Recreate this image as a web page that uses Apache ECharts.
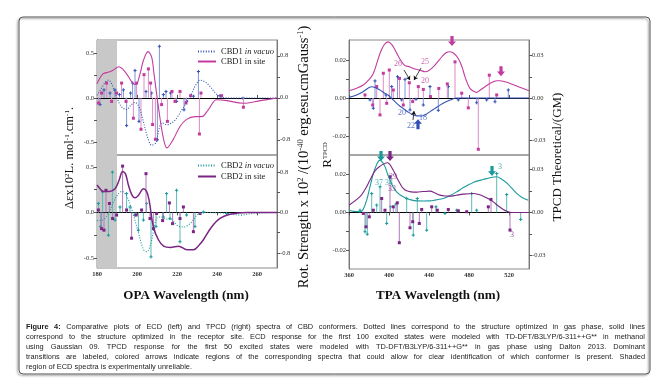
<!DOCTYPE html>
<html><head><meta charset="utf-8">
<script src="https://cdn.jsdelivr.net/npm/echarts@6/dist/echarts.min.js"></script>
<style>html,body{margin:0;padding:0;background:#fff}#c{width:664px;height:382px}</style>
</head><body><div id="c"></div>
<script>
// ---------------- DATA ----------------
const opaTicks = [180, 200, 220, 240, 260];
const tpaTicks = [360, 400, 440, 480, 520];
const ecdLeftTicks = [-0.5, 0, 0.5];
const ecdRightTicks = [-0.8, 0, 0.8];
const tpcdLeftTicks = [-0.02, 0, 0.02];
const tpcdRightTicks = [-0.03, 0, 0.03];
const shadedRegion = [180, 190];

// ECD curves (Δε, left axis)
const ecd1VacuoCurve = [[180,0.03],[182,0.1],[184,0.17],[185.7,0.2],[187.5,0.15],[189.8,0.01],[192.3,-0.1],[194.8,-0.13],[197,-0.08],[199,-0.05],[201,-0.1],[203,-0.25],[205,-0.42],[207.3,-0.53],[209.5,-0.5],[211,-0.35],[212.5,-0.28],[215,-0.3],[218,-0.27],[220,-0.22],[222.5,-0.13],[224.8,-0.05],[227.3,0.05],[229.5,0.15],[231.5,0.2],[234,0.18],[236.5,0.13],[239,0.06],[241.5,0.015],[245,0],[270,0]];
const ecd1SiteCurve = [[180,0.16],[183,0.27],[186,0.29],[188,0.31],[191,0.35],[193,0.32],[195.7,0.24],[198,0.16],[199.5,0.15],[201.5,0.27],[203.2,0.42],[205.5,0.52],[207.3,0.46],[208.5,0.27],[210.7,-0.1],[213,-0.43],[215,-0.56],[218,-0.47],[221.5,-0.32],[224.8,-0.24],[229,-0.21],[232.3,-0.21],[235.7,-0.13],[239.8,-0.02],[245,-0.03],[253,-0.06],[261.7,-0.03],[270,0]];
const ecd2VacuoCurve = [[180,-0.09],[183,-0.08],[185.7,-0.01],[188,0.1],[190.5,0.2],[192.5,0.23],[195,0.17],[197,0.06],[198.5,-0.05],[200.8,-0.23],[203.3,-0.41],[205,-0.43],[206.7,-0.36],[208.3,-0.2],[210,-0.06],[212,-0.05],[214,-0.07],[217.5,-0.08],[220,-0.14],[223.3,-0.16],[226.7,-0.12],[230,-0.03],[233.3,0],[245,-0.01],[252,-0.03],[258,-0.01],[270,0]];
const ecd2SiteCurve = [[180,0.30],[181.5,0.26],[183,0.23],[186.3,0.23],[189,0.26],[191,0.35],[192.8,0.45],[194.3,0.42],[195.7,0.3],[197.5,0.19],[199,0.16],[200.8,0.19],[203.2,0.26],[204.8,0.23],[206,0.14],[208.2,-0.16],[210.7,-0.30],[213.3,-0.37],[216.7,-0.385],[220.8,-0.37],[225,-0.41],[228.3,-0.41],[231,-0.36],[233.2,-0.30],[237.3,-0.16],[241.5,-0.066],[246.5,-0.02],[255,0],[270,0]];

// ECD sticks (rotational strength, right axis)
const ecd1VacuoSticks = [[181.5,-0.13],[183.5,0.15],[186.5,0.09],[189,0.15],[191.2,0.06],[193.2,0.15],[194.8,-0.53],[196.8,0.09],[197.8,0.28],[199,0.52],[201,-0.45],[204.5,0.12],[207.3,0.09],[210.2,-0.8],[211.2,0.98],[213.2,0.06],[214.5,0.12],[216.8,0.09],[219.8,-0.07],[223.5,-0.23],[224.8,-0.07],[228.2,0.03],[230.7,0.5],[241.5,0.04],[253,-0.01]];
const ecd1SiteSticks = [[180.7,-0.1],[182.3,0.09],[184.8,0.28],[187.3,-0.07],[189.8,0.09],[192.3,0.28],[194.5,-0.07],[198.2,-0.39],[199.8,0.28],[202,-0.6],[203.5,0.44],[205.7,0.55],[206.8,0.28],[207.8,-0.51],[209.2,-0.79],[212.3,-0.13],[215.2,-0.45],[217.5,0.12],[219,-0.07],[221.5,0.12],[224.5,-0.1],[226.8,0.04],[231.2,-0.69],[232,0.09],[242.3,0.04],[253.2,-0.18]];
const ecd2VacuoSticks = [[180.7,0.18],[181.8,-0.28],[182.8,0.41],[185.7,-0.45],[187.7,0.8],[189,-0.15],[191.5,0.11],[194.8,0.375],[196.5,0.11],[199,-0.05],[200.7,-0.35],[203.2,-0.15],[204.8,0.18],[207,-0.88],[209.5,-0.28],[213.2,-0.09],[214.8,0.375],[216.5,-0.12],[219.8,0.44],[221.5,-0.58],[224.8,-0.05],[229,-0.28],[233.2,0.01],[244.8,-0.02]];
const ecd2SiteSticks = [[180.7,0.05],[182.3,-0.32],[183.5,-0.35],[184.5,0.44],[186.2,0.18],[187.8,-0.12],[189.8,-0.05],[192.8,0.92],[194.8,0.05],[197.3,-0.51],[199.5,-0.05],[202.3,0.05],[204.5,0.77],[206.5,-0.12],[208.2,-0.32],[209.8,-0.02],[212.8,-0.16],[216.2,0.19],[217.8,-0.22],[221.5,-0.12],[223.2,0.11],[228.2,-0.38],[231.5,-0.02]];

// TPCD curves (GM, right axis)
const tpcd1VacuoCurve = [[360,0.0005],[367,0.002],[374,0.0045],[379,0.007],[382.7,0.008],[386,0.0075],[391,0.0056],[395,0.0038],[399.3,0.002],[403,-0.0005],[407.7,-0.0038],[411,-0.0058],[414.3,-0.0073],[419,-0.0098],[424.3,-0.012],[428,-0.0126],[432.7,-0.0127],[437,-0.0115],[441,-0.0096],[446,-0.0073],[451,-0.005],[456,-0.003],[461,-0.0014],[467.7,0],[480,0],[540,0]];
const tpcd1SiteCurve = [[360,0.0052],[367,0.0068],[374.3,0.0092],[380,0.013],[384.3,0.0174],[388,0.025],[391,0.0315],[395,0.0375],[399.3,0.0397],[403,0.0375],[406,0.034],[409,0.030],[412.7,0.0256],[416,0.023],[421,0.022],[426,0.0205],[431,0.0197],[436,0.0186],[440,0.0195],[444.3,0.022],[448,0.025],[452.7,0.029],[457,0.032],[461,0.0327],[465,0.0315],[469.3,0.028],[473,0.022],[476,0.015],[479,0.0095],[481,0.0068],[484,0.005],[487.7,0.004],[491,0.0055],[496,0.008],[500,0.01],[504.3,0.0115],[508,0.0122],[511,0.0122],[516,0.0115],[521,0.0103],[530,0.0078],[540,0.0052]];
const tpcd2VacuoCurve = [[360,0.0016],[365,0.0008],[371,0.0005],[374,0.002],[377.7,0.0086],[381,0.018],[384.3,0.027],[388,0.034],[391,0.0365],[393.5,0.035],[396,0.032],[398.5,0.027],[401,0.0226],[404,0.018],[407.7,0.0144],[412,0.0118],[417.7,0.0098],[422,0.0088],[427.7,0.0081],[434,0.008],[441,0.0081],[447,0.0088],[454.3,0.0098],[461,0.0118],[467.7,0.0144],[474,0.0172],[481,0.0198],[487,0.0217],[494.3,0.023],[501,0.0242],[507.7,0.0249],[512,0.0236],[517.7,0.0207],[522,0.0175],[527.7,0.0133],[533,0.0105],[539.3,0.0086]];
const tpcd2SiteCurve = [[360,0.0051],[371,0.011],[376,0.016],[381,0.0226],[386,0.029],[391,0.0323],[398.3,0.0347],[404.3,0.0295],[408,0.024],[411,0.0202],[414,0.017],[417.7,0.0151],[422,0.0144],[427.7,0.0142],[434,0.0146],[441,0.0149],[446,0.0136],[451,0.0121],[456,0.0115],[461,0.0114],[467,0.012],[474.3,0.0128],[484.3,0.0133],[489,0.0127],[494.3,0.0114],[499,0.0097],[504.3,0.0074],[509,0.0047],[514.3,0.0021],[518,0.0008],[522.7,0],[540,0]];

// TPCD sticks (R^TPCD, left axis)
const tpcd1VacuoSticks = [[381,-0.001],[384.3,-0.0054],[386,0.009],[397,0.0016],[402.7,0.006],[408.5,0.0112],[412.7,-0.001],[416,0.0098],[421,-0.0063],[427,-0.0007],[434.3,-0.0037],[441,0.006],[449.3,-0.0065],[459.3,0.006],[469.3,-0.001],[487.7,-0.0025],[497.7,-0.001],[506,-0.002],[519.3,0.0042]];
const tpcd1SiteSticks = [[376,0.0016],[383.7,-0.0037],[387.7,0.006],[391,-0.0089],[394.3,0.013],[397.7,-0.0028],[400.3,0.0147],[404.3,0.0042],[410.5,0.0103],[414.3,-0.0037],[420.3,0.008],[423.7,-0.0019],[429.3,0.006],[434.3,0.0045],[441.5,0.0007],[449.8,0.005],[458.3,0.0074],[466,0.019],[472.7,0.0025],[479.3,-0.0052],[489.3,-0.027],[500.3,0.012],[507.7,0.0016]];
const tpcd2VacuoSticks = [[371,0.0012],[376,-0.0102],[378.3,-0.0115],[382.7,0.01],[387.7,0.0039],[391,0.0136],[397.7,-0.0058],[401.5,0.003],[407,0.0044],[417.7,0.0074],[424.3,-0.012],[428.3,0.0074],[437.7,-0.0094],[447,0.003],[456,-0.0005],[467.7,0.0012],[482.7,0.01],[487.7,0.0012],[507.7,0.0206],[517.7,0.0095],[531.7,-0.0037]];
const tpcd2SiteSticks = [[374.3,-0.0005],[377,-0.0076],[380.3,-0.0023],[384.3,0.0012],[392.7,0.0074],[396,0.0012],[401,0.0189],[404.3,0.003],[408.3,0.0051],[410.3,-0.016],[421,-0.0081],[423.7,-0.0049],[430.3,-0.0058],[432.7,0.0016],[442.7,0.003],[448.3,0.0012],[459.3,0.0016],[469.3,0.0009],[477.7,0.0004],[499.3,0.003],[502,0.0069],[521,-0.0093]];

// transition labels [x, y(right axis), text]
const tpcd1SiteLabels = [[409,0.024,'26'],[436,0.0254,'25'],[436,0.012,'20']];
const tpcd1VacuoLabels = [[413,-0.0106,'20'],[422,-0.0198,'22'],[434,-0.0141,'18']];
const tpcd2SiteLabels = [[404,0.0248,'29'],[403,0.0164,'33'],[523,-0.0157,'3']];
const tpcd2VacuoLabels = [[395,0.0206,'37 34'],[511,0.0317,'3']];
// arrow markers [x, y(right axis)]
const tpcd1SiteArrows = [[399,0.0452],[463,0.0403],[512,0.019]];
const tpcd1VacuoArrows = [[429,-0.0185]];
const tpcd2VacuoArrows = [[392,0.0394],[503,0.029]];
const tpcd2SiteArrows = [[401,0.0394]];
const pointerLines = [[[415,0.0198],[421,0.0127]],[[432,0.0212],[425,0.0127]],[[424,-0.0155],[425,-0.0092]]];

const captionLines = [
 'Figure 4: Comparative plots of ECD (left) and TPCD (right) spectra of CBD conformers. Dotted lines correspond to the structure optimized in gas phase, solid lines',
 'correspond to the structure optimized in the receptor site. ECD response for the first 100 excited states were modeled with TD-DFT/B3LYP/6-311++G** in methanol',
 'using Gaussian 09. TPCD response for the first 50 excited states were modeled with TD-DFT/B3LYP/6-311++G** in gas phase using Dalton 2013. Dominant',
 'transitions are labeled, colored arrows indicate regions of the corresponding spectra that could allow for clear identification of which conformer is present. Shaded',
 'region of ECD spectra is experimentally unreliable.'
];

// ---------------- STYLE ----------------
const SERIF = 'Liberation Serif';
const COL = {
  vac1: '#3452b4', vac1Stick: '#7f96d8',
  site1: '#c23c9e', site1Stick: '#dc8cc8',
  vac2: '#1c9a9a', vac2Stick: '#5fb9b9',
  site2: '#7b2585', site2Stick: '#b07ab8'
};
const ARROW = 'path://M3,0L7,0L7,6L10,6L5,11L0,6L3,6Z';

const grids = [
  {left: 97, top: 40, width: 180, height: 115},
  {left: 97, top: 155, width: 180, height: 113},
  {left: 349, top: 40, width: 180, height: 115},
  {left: 349, top: 155, width: 180, height: 114}
].map(g => Object.assign(g, {show: true, borderColor: '#8a8a8a', borderWidth: 1, backgroundColor: 'transparent', containLabel: false, outerBoundsMode: 'none'}));

function xAxis(gi, min, max, ticks, showLabels, inside) {
  return {type: 'value', gridIndex: gi, min, max, position: 'bottom',
    axisLine: {show: true, lineStyle: {color: '#777', width: 1}},
    axisTick: {show: true, inside: inside, length: 3, customValues: ticks, lineStyle: {color: '#555'}},
    axisLabel: {show: showLabels, customValues: ticks, fontSize: 6.5, fontWeight: 'bold', fontFamily: SERIF, color: '#333', margin: 3},
    splitLine: {show: false}};
}
function yAxis(gi, pos, min, max, ticks, minor, dec) {
  return {type: 'value', gridIndex: gi, position: pos, min, max,
    axisLine: {show: true, lineStyle: {color: '#777', width: 1}},
    axisTick: {show: true, length: 3, customValues: ticks.concat(minor), lineStyle: {color: '#555'}},
    axisLabel: {show: true, customValues: ticks, fontSize: 6.5, fontFamily: SERIF, color: '#333', margin: 3,
      formatter: v => v.toFixed(dec)},
    splitLine: {show: false}};
}

function curve(name, data, xi, yi, color, type, extra) {
  return Object.assign({type: 'line', name, data, xAxisIndex: xi, yAxisIndex: yi, smooth: 0.35,
    symbol: 'none', silent: true, z: 4, clip: false,
    lineStyle: {color, width: 1.1, type: type === 'dotted' ? [1, 1.6] : 'solid'}, itemStyle: {color}}, extra || {});
}
function sticks(name, data, xi, yi, lineColor, markColor, mark) {
  return {type: 'custom', name, data, xAxisIndex: xi, yAxisIndex: yi, z: 3, silent: true,
    encode: {x: 0, y: 1},
    renderItem(params, api) {
      const x = api.value(0), y = api.value(1);
      const p0 = api.coord([x, 0]), p1 = api.coord([x, y]);
      const ch = [{type: 'line', shape: {x1: p0[0], y1: p0[1], x2: p1[0], y2: p1[1]}, style: {stroke: lineColor, lineWidth: 1}}];
      if (mark === 'square') ch.push({type: 'rect', shape: {x: p1[0] - 1.5, y: p1[1] - 1.5, width: 3, height: 3}, style: {fill: markColor}});
      else ch.push({type: 'line', shape: {x1: p1[0] - 1.6, y1: p1[1], x2: p1[0] + 1.6, y2: p1[1]}, style: {stroke: markColor, lineWidth: 1}},
                   {type: 'line', shape: {x1: p1[0], y1: p1[1] - 1.6, x2: p1[0], y2: p1[1] + 1.6}, style: {stroke: markColor, lineWidth: 1}});
      return {type: 'group', children: ch};
    }};
}
function base(xi, yi, shade) {
  const s = {type: 'line', name: 'base' + xi, data: [], xAxisIndex: xi, yAxisIndex: yi, symbol: 'none', silent: true, z: 2,
    markLine: {silent: true, symbol: 'none', label: {show: false}, lineStyle: {color: '#000', width: 1, type: 'solid'}, data: [{yAxis: 0}], z: 2}};
  if (shade) s.markArea = {silent: true, itemStyle: {color: '#c8c8c8'}, data: [[{xAxis: shadedRegion[0]}, {xAxis: shadedRegion[1]}]], z: 1};
  return s;
}
function labels(items, xi, yi, color) {
  return {type: 'scatter', xAxisIndex: xi, yAxisIndex: yi, symbolSize: 1, silent: true, clip: false, z: 7,
    itemStyle: {color: 'transparent'},
    data: items.map(d => ({value: [d[0], d[1]], name: d[2]})),
    label: {show: true, position: 'inside', formatter: p => p.name, color, fontSize: 8, fontFamily: SERIF}};
}
function arrows(items, color, rotate) {
  return {symbol: ARROW, symbolSize: [8, 10], symbolRotate: rotate || 0, silent: true, label: {show: false},
    itemStyle: {color}, data: items.map(d => ({coord: d}))};
}

const legendText = {fontFamily: SERIF, fontSize: 8.5, color: '#222',
  rich: {i: {fontFamily: SERIF, fontSize: 8.5, fontStyle: 'italic', color: '#222'}}};
const legendFmt = n => n.replace(' in vacuo', ' {i|in vacuo}');
const legendCommon = {orient: 'vertical', itemWidth: 18, itemHeight: 8, selectedMode: false,
  textStyle: legendText, formatter: legendFmt, padding: 0, itemStyle: {opacity: 0, borderWidth: 0}};

function captionGraphics() {
  const ctx = document.createElement('canvas').getContext('2d');
  const els = [], x0 = 26, x1 = 645, fs = 7.4, y0 = 327, dy = 10;
  captionLines.forEach((line, li) => {
    const words = line.split(' ');
    const bolds = words.map((w, wi) => li === 0 && wi < 2);
    const widths = words.map((w, wi) => {
      ctx.font = (bolds[wi] ? 'bold ' : '') + fs + 'px "Liberation Sans"';
      return ctx.measureText(w).width;
    });
    const total = widths.reduce((a, b) => a + b, 0);
    ctx.font = fs + 'px "Liberation Sans"';
    const gap = li < captionLines.length - 1 ? (x1 - x0 - total) / (words.length - 1) : ctx.measureText(' ').width;
    let x = x0;
    words.forEach((w, wi) => {
      els.push({type: 'text', x, y: y0 + li * dy, silent: true,
        style: {text: w, fontSize: fs, fontFamily: 'Liberation Sans', fontWeight: bolds[wi] ? 'bold' : 'normal',
          fill: '#222', textVerticalAlign: 'middle'}});
      x += widths[wi] + gap;
    });
  });
  return els;
}

const rot = Math.PI / 2;
const titleRich = (a, s, bold) => ({
  a: {fontSize: a, fontFamily: SERIF, fill: '#111', fontWeight: bold ? 'bold' : 'normal'},
  s: {fontSize: s, fontFamily: SERIF, fill: '#111', verticalAlign: 'top', fontWeight: bold ? 'bold' : 'normal'}
});

const option = {
  animation: false,
  backgroundColor: '#fff',
  grid: grids,
  xAxis: [
    xAxis(0, 180, 270, opaTicks, false, true),
    xAxis(1, 180, 270, opaTicks, true, false),
    xAxis(2, 360, 540, tpaTicks, false, true),
    xAxis(3, 360, 540, tpaTicks, true, false)
  ],
  yAxis: [
    yAxis(0, 'left', -0.64, 0.65, ecdLeftTicks, [-0.25, 0.25], 1),
    yAxis(0, 'right', -1.09, 1.10, ecdRightTicks, [-0.4, 0.4], 1),
    yAxis(1, 'left', -0.61, 0.63, ecdLeftTicks, [-0.25, 0.25], 1),
    yAxis(1, 'right', -1.10, 1.14, ecdRightTicks, [-0.4, 0.4], 1),
    yAxis(2, 'left', -0.0300, 0.0305, tpcdLeftTicks, [-0.01, 0.01], 2),
    yAxis(2, 'right', -0.0402, 0.0410, tpcdRightTicks, [-0.015, 0.015], 2),
    yAxis(3, 'left', -0.0299, 0.0304, tpcdLeftTicks, [-0.01, 0.01], 2),
    yAxis(3, 'right', -0.0394, 0.0401, tpcdRightTicks, [-0.015, 0.015], 2)
  ],
  legend: [
    Object.assign({data: ['CBD1 in vacuo', 'CBD1 in site'], left: 197, top: 47, itemGap: 1}, legendCommon),
    Object.assign({data: ['CBD2 in vacuo', 'CBD2 in site'], left: 197, top: 161, itemGap: 2}, legendCommon)
  ],
  series: [
    base(0, 0, true), base(1, 2, true), base(2, 4, false), base(3, 6, false),
    curve('CBD1 in vacuo', ecd1VacuoCurve, 0, 0, COL.vac1, 'dotted'),
    curve('CBD1 in site', ecd1SiteCurve, 0, 0, COL.site1, 'solid'),
    curve('CBD2 in vacuo', ecd2VacuoCurve, 1, 2, COL.vac2, 'dotted'),
    curve('CBD2 in site', ecd2SiteCurve, 1, 2, COL.site2, 'solid', {lineStyle: {color: COL.site2, width: 1.5}}),
    sticks('CBD1 vacuo ECD sticks', ecd1VacuoSticks, 0, 1, COL.vac1Stick, COL.vac1, 'cross'),
    sticks('CBD1 site ECD sticks', ecd1SiteSticks, 0, 1, COL.site1Stick, COL.site1, 'square'),
    sticks('CBD2 vacuo ECD sticks', ecd2VacuoSticks, 1, 3, COL.vac2Stick, COL.vac2, 'cross'),
    sticks('CBD2 site ECD sticks', ecd2SiteSticks, 1, 3, COL.site2Stick, COL.site2, 'square'),
    curve('CBD1 in vacuo', tpcd1VacuoCurve, 2, 5, COL.vac1, 'solid', {markPoint: arrows(tpcd1VacuoArrows, COL.vac1, 180),
      markLine: {silent: true, symbol: ['none', 'arrow'], symbolSize: 4, label: {show: false}, lineStyle: {color: '#111', width: 0.8, type: 'solid'},
        data: pointerLines.map(l => [{coord: l[0]}, {coord: l[1]}])}}),
    curve('CBD1 in site', tpcd1SiteCurve, 2, 5, COL.site1, 'solid', {markPoint: arrows(tpcd1SiteArrows, COL.site1)}),
    curve('CBD2 in vacuo', tpcd2VacuoCurve, 3, 7, COL.vac2, 'solid', {markPoint: arrows(tpcd2VacuoArrows, COL.vac2)}),
    curve('CBD2 in site', tpcd2SiteCurve, 3, 7, COL.site2, 'solid', {markPoint: arrows(tpcd2SiteArrows, COL.site2)}),
    sticks('CBD1 vacuo TPCD sticks', tpcd1VacuoSticks, 2, 4, COL.vac1Stick, COL.vac1, 'cross'),
    sticks('CBD1 site TPCD sticks', tpcd1SiteSticks, 2, 4, COL.site1Stick, COL.site1, 'square'),
    sticks('CBD2 vacuo TPCD sticks', tpcd2VacuoSticks, 3, 6, COL.vac2Stick, COL.vac2, 'cross'),
    sticks('CBD2 site TPCD sticks', tpcd2SiteSticks, 3, 6, COL.site2Stick, COL.site2, 'square'),
    labels(tpcd1SiteLabels, 2, 5, COL.site1),
    labels(tpcd1VacuoLabels, 2, 5, COL.vac1),
    labels(tpcd2SiteLabels, 3, 7, COL.site2),
    labels(tpcd2VacuoLabels, 3, 7, COL.vac2)
  ],
  graphic: [
    {type: 'rect', z: -10, silent: true, shape: {x: 19, y: 17, width: 631, height: 357, r: 4},
     style: {fill: 'none', stroke: '#555', lineWidth: 1, shadowColor: 'rgba(0,0,0,0.45)', shadowBlur: 2, shadowOffsetX: -1.5, shadowOffsetY: 1.5}},
    {type: 'text', x: 70, y: 158, rotation: rot, silent: true,
     style: {text: '{a|Δεx10}{s|2}{a|L. mol}{s|-1}{a|.cm}{s|-1}{a|.}', rich: titleRich(12.5, 7), textAlign: 'center', textVerticalAlign: 'middle'}},
    {type: 'text', x: 304, y: 157, rotation: rot, silent: true,
     style: {text: '{a|Rot. Strength x 10}{s|2}{a| /(10}{s|-40}{a| erg.esu.cmGauss}{s|-1}{a|)}', rich: titleRich(14.5, 8.5), textAlign: 'center', textVerticalAlign: 'middle'}},
    {type: 'text', x: 328, y: 155, rotation: rot, silent: true,
     style: {text: '{a|R}{s|TPCD}', rich: titleRich(13, 6.5), textAlign: 'center', textVerticalAlign: 'middle'}},
    {type: 'text', x: 558, y: 157, rotation: rot, silent: true,
     style: {text: 'TPCD Theoretical/(GM)', fontSize: 13, fontFamily: SERIF, fill: '#111', textAlign: 'center', textVerticalAlign: 'middle'}},
    {type: 'text', x: 186, y: 296, silent: true,
     style: {text: 'OPA Wavelength (nm)', fontSize: 13, fontWeight: 'bold', fontFamily: SERIF, fill: '#111', textAlign: 'center', textVerticalAlign: 'middle'}},
    {type: 'text', x: 438, y: 296, silent: true,
     style: {text: 'TPA Wavelength (nm)', fontSize: 13, fontWeight: 'bold', fontFamily: SERIF, fill: '#111', textAlign: 'center', textVerticalAlign: 'middle'}}
  ].concat(captionGraphics())
};

const chart = echarts.init(document.getElementById('c'), null, {renderer: 'canvas', width: 664, height: 382});
chart.setOption(option);
</script></body></html>
